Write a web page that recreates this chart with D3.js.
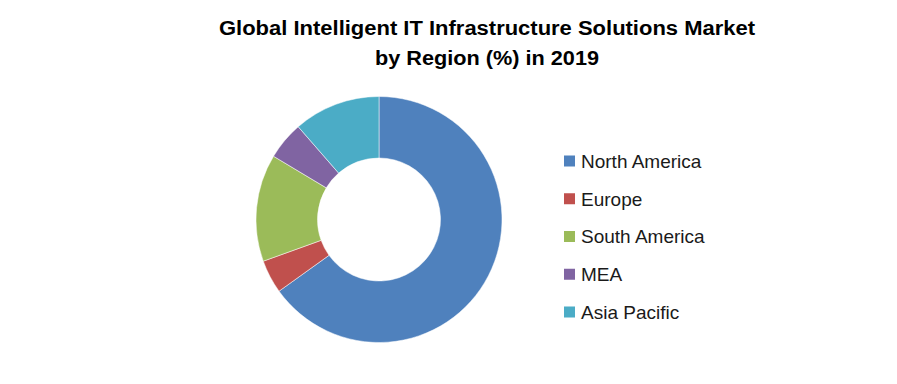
<!DOCTYPE html>
<html><head><meta charset="utf-8">
<script src="https://cdn.jsdelivr.net/npm/d3@7"></script>
<style>body{margin:0;background:#fff}</style>
</head><body>
<svg id="chart" width="897" height="384"></svg>
<script>
const regions = ["North America", "Europe", "South America", "MEA", "Asia Pacific"];
const shares = [65.1, 4.4, 14.1, 5.0, 11.4];
const colors = ["#4F81BD", "#C0504D", "#9BBB59", "#8064A2", "#4BACC6"];
const titleLines = ["Global Intelligent IT Infrastructure Solutions Market", "by Region (%) in 2019"];

const svg = d3.select("#chart");
const cx = 379, cy = 219.5, rOuter = 123, rInner = 61.5;

svg.append("g").selectAll("text").data(titleLines).join("text")
  .attr("x", 487).attr("y", (d, i) => 35 + i * 30)
  .attr("text-anchor", "middle")
  .attr("font-family", "Liberation Sans, Arial, sans-serif")
  .attr("font-weight", "bold").attr("font-size", 20).attr("fill", "#000")
  .attr("textLength", (d, i) => i === 0 ? 536 : 224)
  .attr("lengthAdjust", "spacingAndGlyphs")
  .text(d => d);

const pie = d3.pie().sort(null).value(d => d);
const arc = d3.arc().innerRadius(rInner).outerRadius(rOuter);
svg.append("g").attr("transform", `translate(${cx},${cy})`)
  .selectAll("path").data(pie(shares)).join("path")
  .attr("d", arc).attr("fill", (d, i) => colors[i])
  .attr("stroke", "#fff").attr("stroke-width", 0.5);

const legendY = d3.scalePoint().domain(regions).range([161, 312]);
const lg = svg.append("g").selectAll("g").data(regions).join("g")
  .attr("transform", d => `translate(564,${legendY(d)})`);
lg.append("rect").attr("x", 0).attr("y", -5.5).attr("width", 11).attr("height", 11)
  .attr("fill", (d, i) => colors[i]);
lg.append("text").attr("x", 17).attr("y", 0).attr("dy", "0.36em")
  .attr("font-family", "Liberation Sans, Arial, sans-serif")
  .attr("font-size", 19).attr("fill", "#1a1a1a")
  .text(d => d);
</script>
</body></html>
